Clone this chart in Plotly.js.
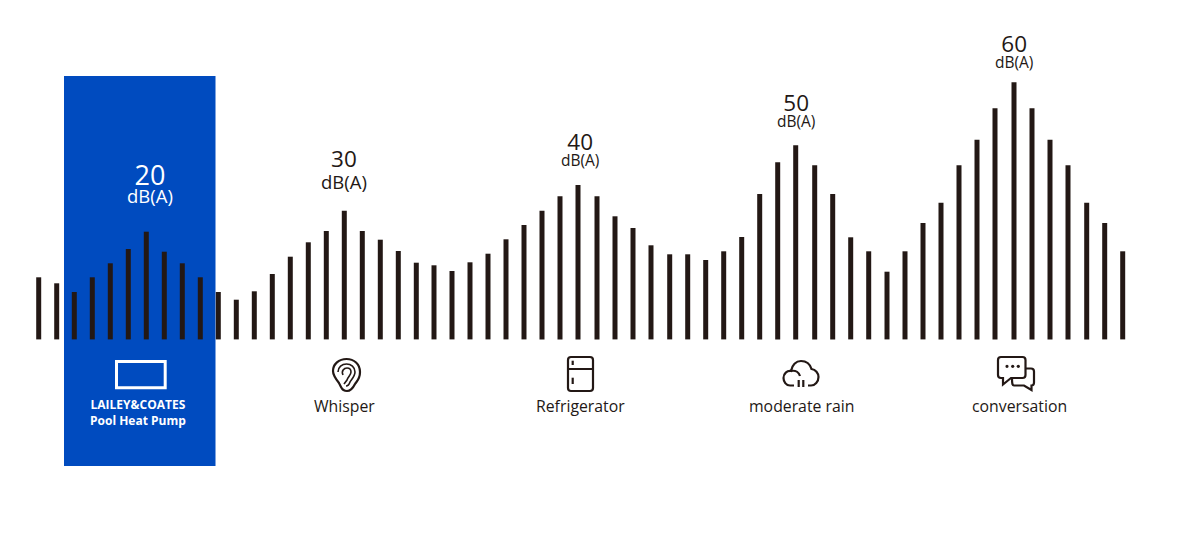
<!DOCTYPE html>
<html><head><meta charset="utf-8">
<script src="https://cdn.plot.ly/plotly-3.0.1.min.js"></script>
<style>html,body{margin:0;padding:0;background:#fff}#c{width:1200px;height:533px}</style>
</head><body><div id="c"></div>
<script>
// Bar positions and heights
const barX = [38.7,56.7,74.3,92.3,110.3,128.3,146.3,164.3,182.3,200.3,218.3,236.3,254.3,272.3,290.3,308.3,326.3,344.3,362.3,380.3,398.3,416.3,434,452,470,488,506,524,542,560,578,597,615,633,651,669.7,687.7,705.7,723.7,741.7,759.7,777.7,795.7,814.7,832.7,850.7,868.7,887,905,923,941,959,977,995,1014,1032,1050,1068,1086.7,1104.7,1122.7];
const barTop = [277.3,283.3,292,277.3,263.3,249,231.7,251.7,263.3,277.3,292,299.7,291.3,274,256.7,242.3,231,210.7,231,239.7,251,262.7,265.3,271,262.3,253.7,239.3,225,210.7,196.3,185,196.3,216.3,228,245.3,254.3,254.3,260,251.3,237,194,162.3,145.3,165.3,194,237.3,251.3,271.7,251.3,223,202.7,165.3,139.7,108.3,82.3,108.3,139.7,165.3,202.7,223,251.3];
const baseline = 339.4;
const barHeights = barTop.map(t => baseline - t);

const levelText = ['20','30','40','50','60'];
const levelUnit = 'dB(A)';
const levelX = [149.5,344,580,796,1014];
const levelMidY = [182,168,148,109,50];
const levelSize = [27,22.5,22.5,22.5,22.5];
const unitSize = [18.5,18.5,15.5,15.5,15.5];
const lineBase = [13.5,17,12.5,12.5,12.5];
const levelColor = ['#ffffff','#231815','#231815','#231815','#231815'];

const labels = ['Whisper','Refrigerator','moderate rain','conversation'];
const labelX = [344,580,801,1019];
const labelY = 405.5;

const ink = '#231815', blue = '#004bbf', font = '"Open Sans", sans-serif';

const ann = (x,y,text,size,color) => ({xref:'x',yref:'y2',x,y,text,showarrow:false,xanchor:'center',yanchor:'middle',font:{family:font,size,color}});
const annotations = [];
levelText.forEach((t,i)=>{
  annotations.push(ann(levelX[i],levelMidY[i],
    `<span style="font-size:${levelSize[i]}px">${t}</span><br><span style="font-size:${unitSize[i]}px">${levelUnit}</span>`,
    lineBase[i],levelColor[i]));
});
labels.forEach((t,i)=>annotations.push(ann(labelX[i],labelY,t,15.8,ink)));
annotations.push(ann(137.5,412.5,'<b>LAILEY&COATES</b><br><b>Pool Heat Pump</b>',12,'#ffffff'));

const sh = (o) => Object.assign({xref:'x',yref:'y2',layer:'above',line:{color:ink,width:2.2}},o);
const p = (path,w,col) => sh({type:'path',path,line:{color:col||ink,width:w||2.2}});
const dot = (x,y,r) => sh({type:'circle',x0:x-r,x1:x+r,y0:y-r,y1:y+r,fillcolor:ink,line:{width:0}});
const shapes = [
  {type:'rect',xref:'x',yref:'y2',layer:'below',x0:64,x1:215.5,y0:76,y1:466,fillcolor:blue,line:{width:0}},
  // heat pump
  sh({type:'rect',x0:116.5,x1:165.2,y0:361.5,y1:387.8,line:{color:'#ffffff',width:3}}),
  // ear
  p('M339,383 C335,378 333,375 333,371 C333,364 339,359 346.5,359 C354,359 360,364 360,372 C360,379 357,381 355,384 C353,388 351,391 347,391 C344,391 342,389 341,387 Z'),
  p('M338,372 C338,367 342,364 346.5,364 C351,364 355,367 355,372 C355,376 352,379 350,382 C349,385 348,386 346,386',1.6),
  p('M343,375 C341,371 344,368 347,368 C350,368 351,370 351,372 C351,375 348,377 347,380 L344,384',1.6),
  // fridge
  p('M571,357 L590,357 C592,357 593,358 593,360 L593,388 C593,390 592,391 590,391 L571,391 C569,391 568,390 568,388 L568,360 C568,358 569,357 571,357 Z M568,369 L593,369'),
  p('M572.7,360.7 L572.7,365'),p('M572.7,377.7 L572.7,384'),
  // cloud
  p('M794,385.5 L790,385.5 C786,385.5 783.5,381.5 783.5,378 C783.5,373.5 787,370.5 791,371 C792,365 796,361 801,361 C806,361 810,364 811.5,369 C815.5,369.5 818.5,373 818.5,377 C818.5,381.5 815,385.5 811,385.5 L808,385.5'),
  p('M791,371 C796,370 799,373 800,376'),
  p('M798.7,380 L798.7,387'),p('M803.3,380 L803.3,387'),
  // speech bubbles
  p('M1001,357 L1022.5,357 C1024.5,357 1025.5,358 1025.5,360 L1025.5,375 C1025.5,377 1024.5,378 1022.5,378 L1011,378 L1003,384.5 L1003,378 L1001,378 C999,378 998,377 998,375 L998,360 C998,358 999,357 1001,357 Z'),
  p('M1026,368.5 L1031,368.5 C1033,368.5 1034,369.5 1034,371.5 L1034,382.5 C1034,384.5 1033,385.5 1031.5,385.5 L1031.5,390 L1024,385.5 L1014,385.5 C1012.5,385.5 1012,384.5 1012,378'),
  dot(1007,366.3,1.6),dot(1012.7,366.3,1.6),dot(1018.3,366.3,1.6),
];

const traces = [
  {type:'bar',x:barX,y:barHeights,width:5,marker:{color:ink,line:{width:0}},hoverinfo:'skip'},
  {type:'scatter',mode:'none',x:[],y:[],yaxis:'y2',hoverinfo:'skip'}
];
const layout = {
  width:1200,height:533,margin:{l:0,r:0,t:0,b:0},
  paper_bgcolor:'#ffffff',plot_bgcolor:'rgba(0,0,0,0)',showlegend:false,
  xaxis:{range:[0,1200],visible:false,fixedrange:true},
  yaxis:{range:[baseline-533,baseline],visible:false,fixedrange:true},
  yaxis2:{range:[533,0],overlaying:'y',visible:false,fixedrange:true},
  shapes,annotations
};
Plotly.newPlot('c',traces,layout,{staticPlot:true,displayModeBar:false});
</script></body></html>
